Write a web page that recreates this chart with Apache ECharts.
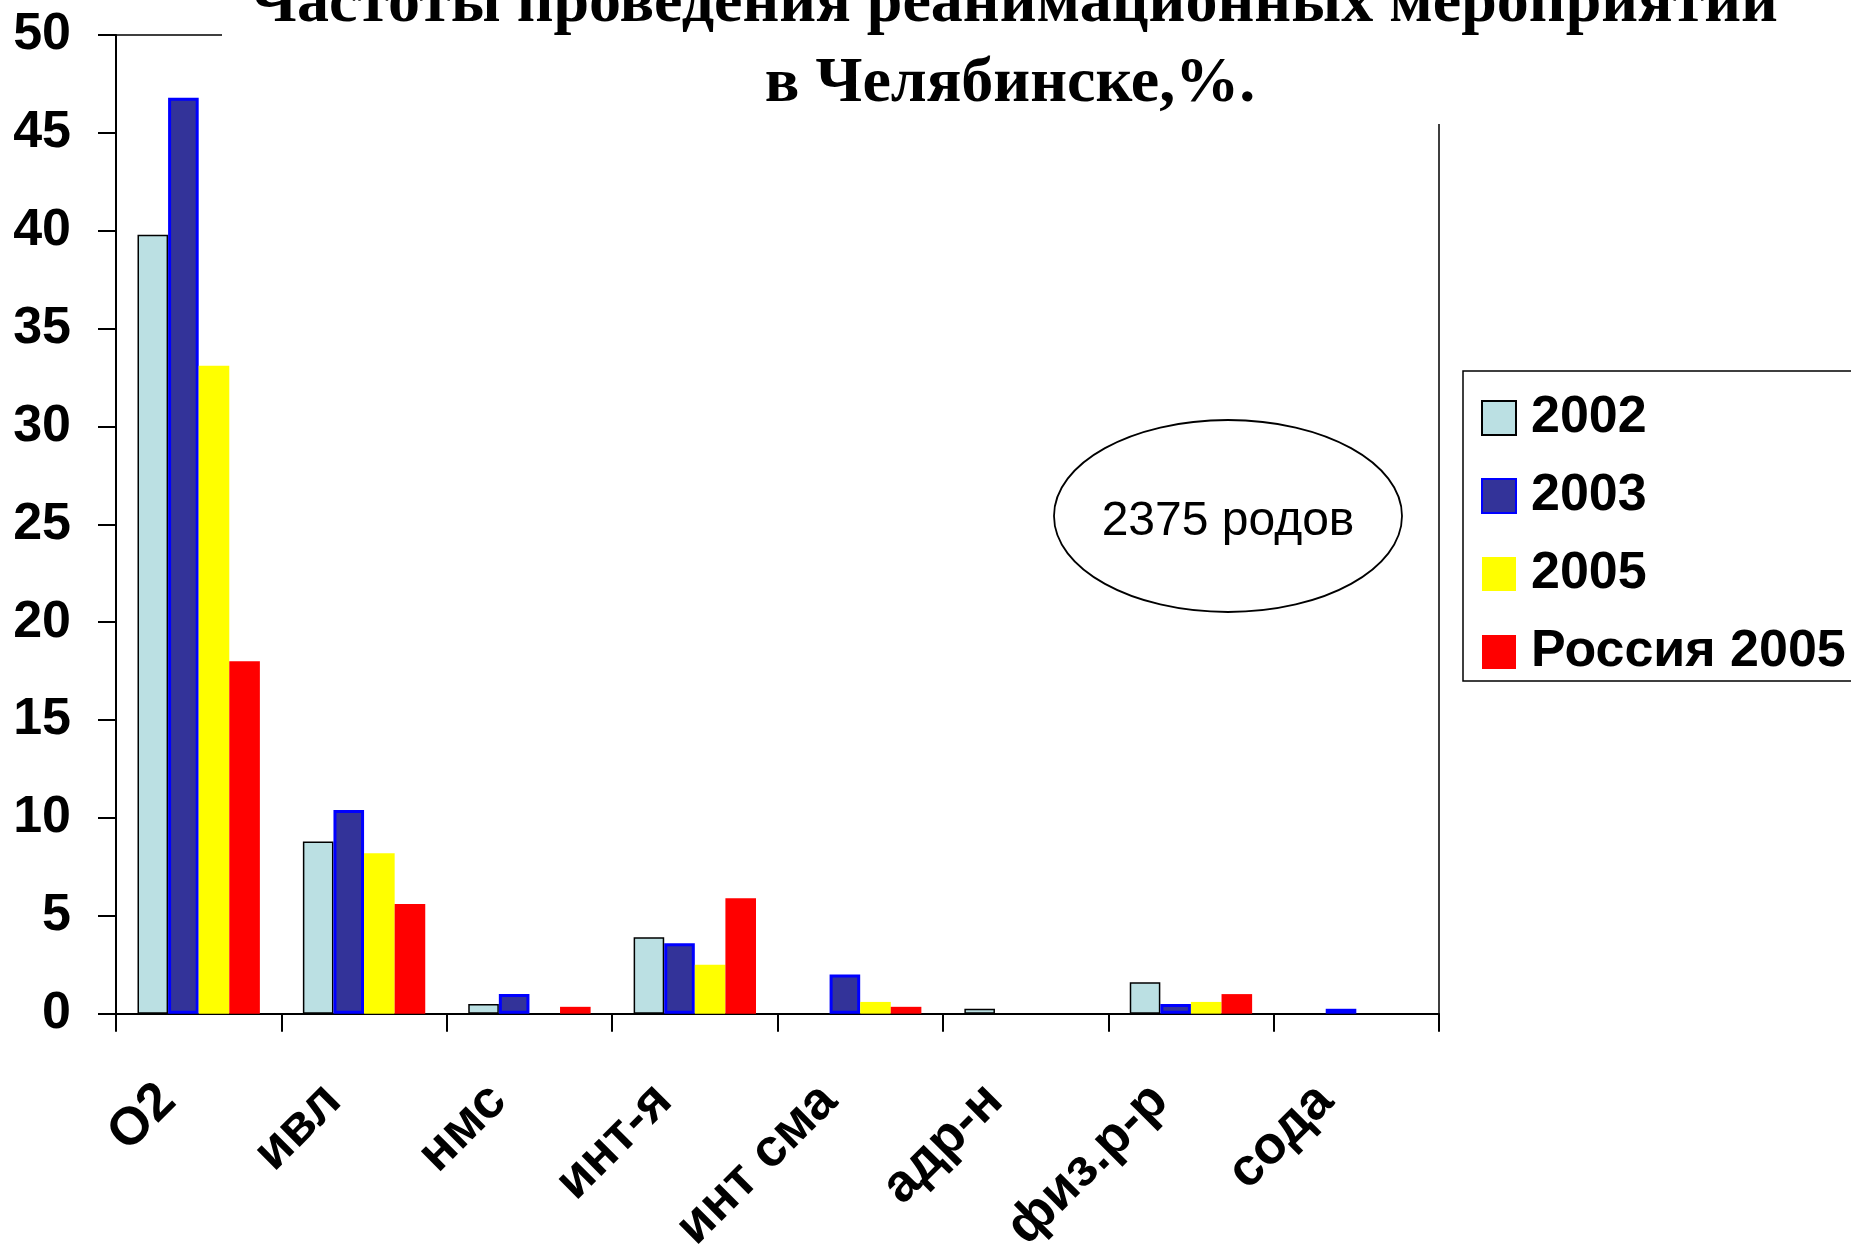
<!DOCTYPE html>
<html><head><meta charset="utf-8">
<script src="https://cdn.jsdelivr.net/npm/echarts@6/dist/echarts.min.js"></script>
<style>html,body{margin:0;padding:0;background:#fff}#c{width:1851px;height:1257px}</style>
</head><body><div id="c"></div>
<script>
const categories = ['O2', 'ивл', 'нмс', 'инт-я', 'инт сма', 'адр-н', 'физ.р-р', 'сода'];
const seriesNames = ['2002', '2003', '2005', 'Россия 2005'];
const s2002   = [39.8, 8.8, 0.5, 3.9, null, 0.25, 1.6, null];
const s2003   = [46.8, 10.4, 1.0, 3.6, 2.0, null, 0.5, 0.25];
const s2005   = [33.1, 8.2, null, 2.5, 0.6, null, 0.6, null];
const sRussia = [18.0, 5.6, 0.35, 5.9, 0.35, null, 1.0, null];
const yMin = 0, yMax = 50, yStep = 5;
const titleLines = ['Частоты проведения реанимационных мероприятий', 'в Челябинске,%.'];
const noteText = '2375 родов';

const chart = echarts.init(document.getElementById('c'), null, {renderer: 'canvas'});
const sans = '"Liberation Sans", Arial, sans-serif';
const serif = '"Liberation Serif", "Times New Roman", serif';

function bar(name, data, color, borderColor, borderWidth) {
  return {
    name, type: 'bar', data,
    barGap: '0%', barCategoryGap: '26%',
    itemStyle: {color, borderColor: borderColor || color, borderWidth: borderWidth || 0},
    emphasis: {disabled: true}
  };
}

chart.setOption({
  animation: false,
  backgroundColor: '#fff',
  grid: {left: 116, right: 412, top: 35, bottom: 238, show: true, borderColor: '#000', borderWidth: 1.5, backgroundColor: 'transparent'},
  xAxis: {
    type: 'category', data: categories,
    axisLine: {lineStyle: {color: '#000', width: 2}},
    axisTick: {show: true, length: 18, interval: 0, lineStyle: {color: '#000', width: 2}},
    axisLabel: {interval: 0, rotate: 45, margin: 48, padding: [0, 44, 0, 0], color: '#000', fontSize: 53, fontWeight: 'bold', fontFamily: sans}
  },
  yAxis: {
    type: 'value', min: yMin, max: yMax, interval: yStep,
    splitLine: {show: false},
    axisLine: {show: true, lineStyle: {color: '#000', width: 2}},
    axisTick: {show: true, length: 18, lineStyle: {color: '#000', width: 2}},
    axisLabel: {margin: 45, color: '#000', fontSize: 52, fontWeight: 'bold', fontFamily: sans}
  },
  legend: {
    orient: 'vertical', left: 1463, top: 371,
    padding: [21, 20, 3, 18],
    itemWidth: 34, itemHeight: 34, itemGap: 26,
    borderColor: '#000', borderWidth: 1.5, backgroundColor: '#fff',
    selectedMode: false, icon: 'rect',
    textStyle: {fontSize: 52, fontWeight: 'bold', fontFamily: sans, color: '#000', lineHeight: 52, padding: [0, 0, 0, 10]},
    data: seriesNames
  },
  series: [
    bar(seriesNames[0], s2002, '#BBE0E3', '#000', 1.5),
    bar(seriesNames[1], s2003, '#333399', '#0000FF', 3),
    bar(seriesNames[2], s2005, '#FFFF00'),
    bar(seriesNames[3], sRussia, '#FF0000')
  ],
  graphic: [
    {type: 'rect', z: 50, shape: {x: 222, y: 0, width: 1629, height: 124}, style: {fill: '#fff'}},
    {type: 'text', z: 51, x: 1014, y: 4, style: {text: titleLines[0], font: 'bold 64px ' + serif, fill: '#000', align: 'center', verticalAlign: 'middle'}},
    {type: 'text', z: 51, x: 1010, y: 84, style: {text: titleLines[1], font: 'bold 64px ' + serif, fill: '#000', align: 'center', verticalAlign: 'middle'}},
    {type: 'ellipse', z: 40, shape: {cx: 1228, cy: 516, rx: 174, ry: 96}, style: {fill: '#fff', stroke: '#000', lineWidth: 1.8}},
    {type: 'text', z: 41, x: 1228, y: 522, style: {text: noteText, font: '48px ' + sans, fill: '#000', align: 'center', verticalAlign: 'middle'}}
  ]
});
</script>
</body></html>
